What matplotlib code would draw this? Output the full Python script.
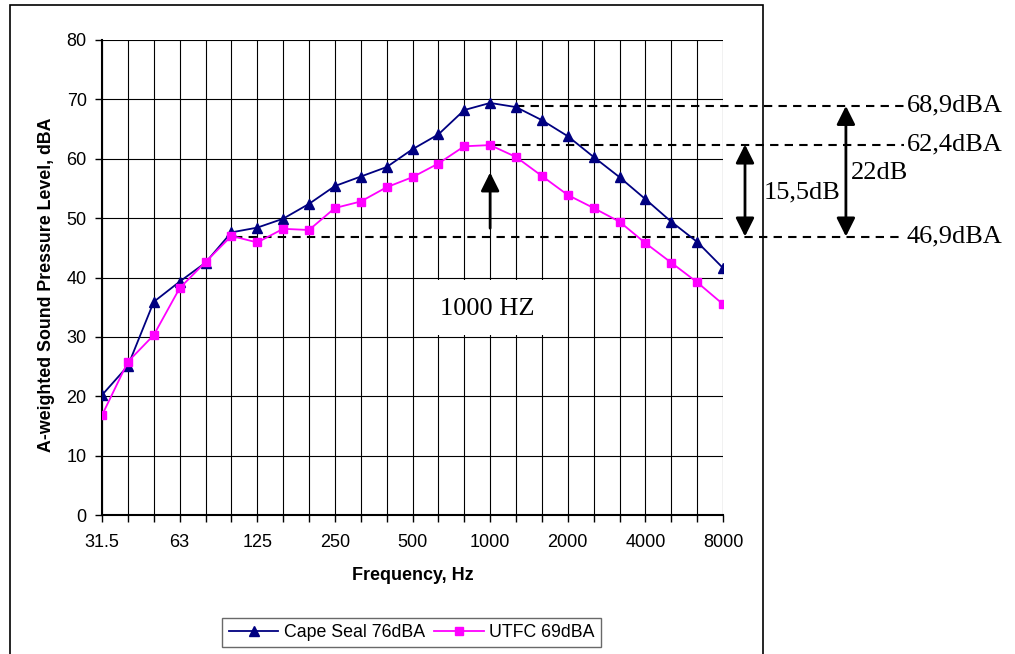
import matplotlib
matplotlib.use("Agg")
import matplotlib.pyplot as plt
from matplotlib.patches import Rectangle

freq_labels = ["31.5", "40", "50", "63", "80", "100", "125", "160", "200", "250",
               "315", "400", "500", "630", "800", "1000", "1250", "1600", "2000",
               "2500", "3150", "4000", "5000", "6300", "8000"]
cape_seal = [20.2, 25.1, 35.9, 39.3, 42.5, 47.6, 48.4, 49.9, 52.4, 55.4, 57.0, 58.6,
             61.6, 64.1, 68.2, 69.4, 68.7, 66.5, 63.8, 60.3, 56.9, 53.2, 49.4, 46.0, 41.6]
utfc = [16.8, 25.8, 30.3, 38.2, 42.6, 47.0, 45.9, 48.2, 48.0, 51.7, 52.8, 55.2,
        56.9, 59.2, 62.1, 62.3, 60.3, 57.1, 53.9, 51.7, 49.4, 45.8, 42.5, 39.2, 35.5]
levels = [68.9, 62.4, 46.9]
level_labels = ["68,9dBA", "62,4dBA", "46,9dBA"]

SANS = "Liberation Sans"
SERIF = "Liberation Serif"

fig = plt.figure(figsize=(10.15, 6.54), dpi=100)
ax = fig.add_axes([102/1015, 1-515/654, (723-102)/1015, (515-40)/654])

x = list(range(len(freq_labels)))
ax.plot(x, cape_seal, color="#000080", marker="^", markersize=6.5, lw=1.3,
        label="Cape Seal 76dBA", zorder=4)
ax.plot(x, utfc, color="#FF00FF", marker="s", markersize=5.5, lw=1.3,
        label="UTFC 69dBA", zorder=4)

ax.set_xlim(0, len(freq_labels) - 1)
ax.set_ylim(0, 80)
ax.set_yticks(range(0, 81, 10))
ax.set_xticks(x)
ax.set_xticklabels([lab if i % 3 == 0 else "" for i, lab in enumerate(freq_labels)])
ax.set_axisbelow(True)
ax.grid(True, color="black", lw=0.8)
for s in ["top", "right"]:
    ax.spines[s].set_visible(False)
for s in ["left", "bottom"]:
    ax.spines[s].set_linewidth(1.5)
ax.tick_params(axis="both", direction="out", length=5, width=1, labelsize=13, pad=6)
for lab in ax.get_xticklabels() + ax.get_yticklabels():
    lab.set_fontfamily(SANS)
ax.tick_params(axis="x", pad=9)

ax.set_xlabel("Frequency, Hz", fontfamily=SANS, fontweight="bold", fontsize=13, labelpad=11)
ax.set_ylabel("A-weighted Sound Pressure Level, dBA", fontfamily=SANS, fontweight="bold",
              fontsize=12.8, labelpad=10)
ax.yaxis.set_label_coords(-0.076, 0.484)

# white box behind "1000 HZ"
ax.add_patch(Rectangle((12.1, 30.3), 5.6, 9.2, facecolor="white", edgecolor="none", zorder=1))
ax.text(14.9, 34.7, "1000 HZ", fontfamily=SERIF, fontsize=19, ha="center", va="center", zorder=5)

# dashed reference lines
starts = [16.0, 15.1, 5.1]
for lv, st, lab in zip(levels, starts, level_labels):
    ax.plot([st, 31.0], [lv, lv], color="black", lw=1.5, ls=(0, (4, 3)), clip_on=False, zorder=3)
    ax.text(31.1, lv, lab, fontfamily=SERIF, fontsize=19, ha="left", va="center",
            clip_on=False)

arrow_kw = dict(arrowstyle="<|-|>", color="black", lw=2, mutation_scale=28,
                shrinkA=0, shrinkB=0)
ax.annotate("", xy=(24.85, levels[1]), xytext=(24.85, levels[2]),
            arrowprops=arrow_kw, annotation_clip=False)
ax.annotate("", xy=(28.75, levels[0]), xytext=(28.75, levels[2]),
            arrowprops=arrow_kw, annotation_clip=False)
ax.annotate("", xy=(15.0, 57.7), xytext=(15.0, 48.3),
            arrowprops=dict(arrowstyle="-|>", color="black", lw=2, mutation_scale=28,
                            shrinkA=0, shrinkB=0), annotation_clip=False)
ax.text(27.05, 54.4, "15,5dB", fontfamily=SERIF, fontsize=19, ha="center", va="center")
ax.text(30.05, 57.6, "22dB", fontfamily=SERIF, fontsize=19, ha="center", va="center")

leg = fig.legend(loc="center", bbox_to_anchor=(411.5/1015, 1-632.5/654), ncol=2,
                 frameon=True, fancybox=False, edgecolor="#444444", borderpad=0.35,
                 handlelength=2.8, columnspacing=0.5, handletextpad=0.3,
                 prop={"family": SANS, "size": 12.8})
leg.get_frame().set_linewidth(1.0)

# outer chart-area frame
fig.patches.append(Rectangle((10/1015, -0.01), (763-10)/1015, 1.01-5/654,
                             transform=fig.transFigure, fill=False,
                             edgecolor="black", lw=1.2))

fig.savefig("out.png", dpi=100)
